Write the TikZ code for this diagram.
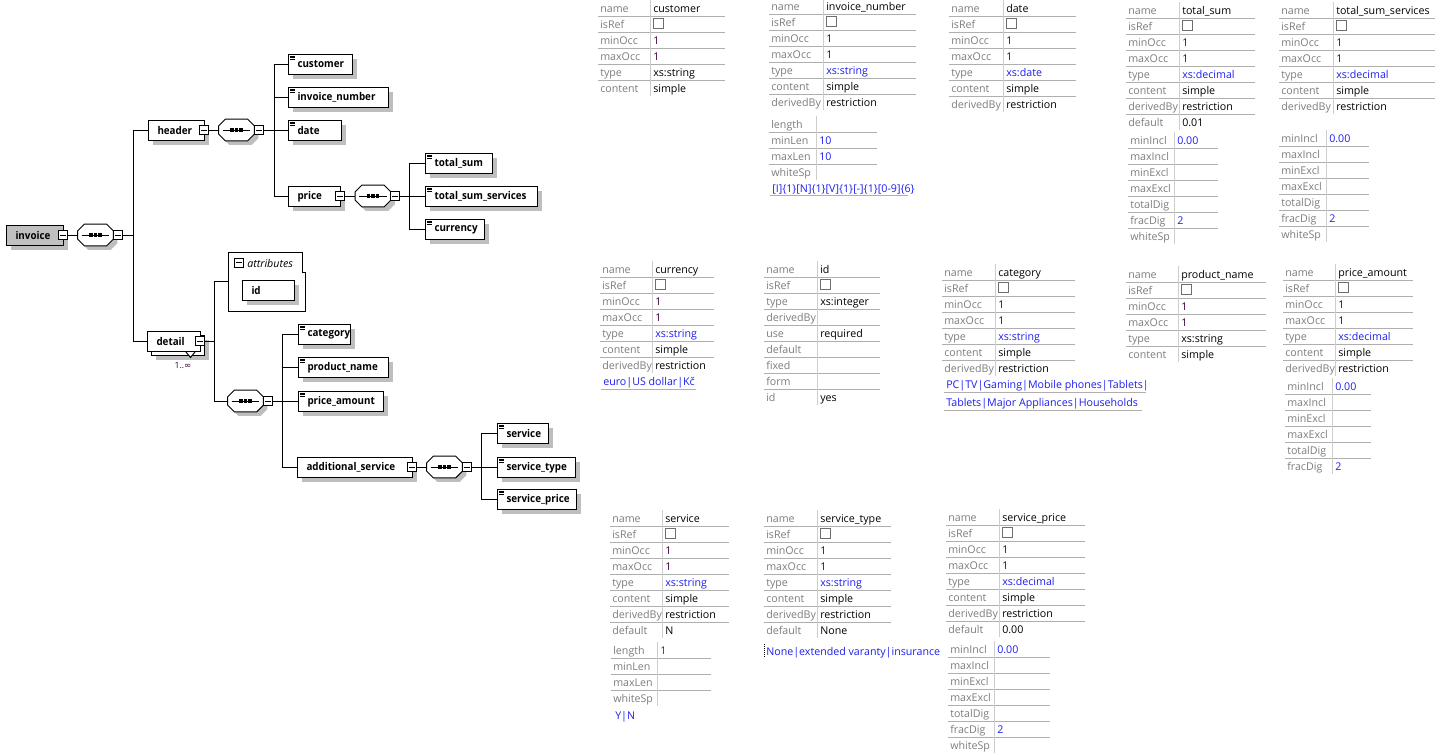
\documentclass[tikz,border=0pt]{standalone}
\usepackage{fontspec}
\setmainfont{Open Sans}
\newfontfamily\treefont[FakeStretch=0.92]{Open Sans}
\newfontfamily\dejavu{DejaVu Sans}
\usetikzlibrary{shadows}
\newdimen\pxu \pxu=0.75pt
\definecolor{labgray}{RGB}{125,125,125}
\definecolor{valblue}{RGB}{30,30,240}
\definecolor{valpur}{RGB}{64,0,64}
\definecolor{rowline}{RGB}{175,175,175}
\definecolor{colline}{RGB}{205,205,205}
\definecolor{shgray}{RGB}{190,190,190}
\definecolor{selgray}{RGB}{192,192,192}
\definecolor{chkgray}{RGB}{110,110,110}
\newcommand\bl[1]{\textcolor{valblue}{#1}}
\newcommand\pu[1]{\textcolor{valpur}{#1}}
\newcommand\chk{{\color{chkgray}\setlength\fboxsep{0pt}\setlength\fboxrule{0.6pt}\fbox{\vrule width0pt height7pt\hspace{7pt}}}}
\newcommand\tf{\fontsize{8}{9.5}\selectfont}
\tikzset{
  conn/.style={line width=0.75pt},
  elbox/.style={draw, line width=0.75pt, fill=white, inner sep=0pt, minimum height=20\pxu, align=left, font=\treefont\tf\bfseries, anchor=north west},
  shad/.style={drop shadow={shadow xshift=3pt, shadow yshift=-3pt, fill=shgray, opacity=1}},
  mbox/.style={draw, line width=0.75pt, fill=white, inner sep=0pt, minimum size=9\pxu},
  lab/.style={font=\tf, text=labgray, inner sep=0pt, anchor=west, text height=1.6ex, text depth=.4ex},
  val/.style={font=\tf, inner sep=0pt, anchor=west, text height=1.6ex, text depth=.4ex},
  rowl/.style={draw=rowline, line width=0.75pt},
  coll/.style={draw=colline, line width=0.75pt},
}
% element box: name, x, y, width, text, options
\newcommand\elem[6]{\node[elbox, shad, text width=#4\pxu, #6] (#1) at (#2,#3) {\mbox{\hspace*{9\pxu}#5}};}
\newcommand\icon[1]{\foreach \d in {2,3.6,5.2}{\draw[line width=0.55pt] ([shift={(2,\d)}]#1.north west) -- ++(5,0);}}
\newcommand\minusb[3]{\node[mbox] (#1) at (#2,#3) {}; \draw[line width=0.6pt] ([shift={(2,0)}]#1.west) -- ([shift={(-2,0)}]#1.east);}
\newcommand\seqc[3]{%
  \node[minimum width=35\pxu, minimum height=21\pxu, inner sep=0pt] (#1) at (#2,#3) {};
  \draw[line width=0.75pt, fill=white, shad] ([shift={(6.5,0)}]#1.north west) -- ([shift={(-6.5,0)}]#1.north east) -- ([shift={(0,6.5)}]#1.north east) -- ([shift={(0,-6.5)}]#1.south east) -- ([shift={(-6.5,0)}]#1.south east) -- ([shift={(6.5,0)}]#1.south west) -- ([shift={(0,-6.5)}]#1.south west) -- ([shift={(0,6.5)}]#1.north west) -- cycle;
  \draw[line width=0.75pt] ([shift={(4,0)}]#1.west) -- ([shift={(-4,0)}]#1.east);
  \foreach \dx in {-4.5,0,4.5} \fill ([shift={(\dx-1.6,-1.6)}]#1.center) rectangle ++(3.2,3.2);
}
% property table: id, xl, xs, xr, y0, n, rows
\newcommand\ptab[7]{%
  \foreach \ptlab/\ptval [count=\ptn] in {#7}{%
    \pgfmathsetmacro\ptyy{#5+16*(\ptn-1)}
    \node[lab] (#1l\ptn) at (#2,\ptyy) {\ptlab};
    \node[val] (#1v\ptn) at (#3+3,\ptyy) {\ptval};
    \ifnum\ptn<#6 \draw[rowl] (#2-2,\ptyy+8) -- (#4,\ptyy+8); \fi
  }
  \draw[coll] (#3,#5-8) -- (#3,#5+16*#6-8);
}
\begin{document}
\begin{tikzpicture}[x=0.75pt, y=-0.75pt]
\fill[white] (0,0) rectangle (1440,754);
\useasboundingbox (0,0) rectangle (1440,754);

% ---------------- tree ----------------
\elem{invoice}{6}{225}{57}{invoice}{fill=selgray}
\minusb{invm}{63}{235}
\seqc{invseq}{95.5}{235}
\minusb{invseqm}{117.5}{235}
\draw[conn] (invm.east) -- (invseq.west);
\coordinate (b1) at (133,235);
\draw[conn] (invseqm.east) -- (b1);

\elem{header}{148}{120}{56}{header}{}
\minusb{hm}{204}{130}
\seqc{hseq}{236.5}{130}
\minusb{hseqm}{258.5}{130}
\draw[conn] (hm.east) -- (hseq.west);
\coordinate (b2) at (274,130);
\draw[conn] (hseqm.east) -- (b2);

\elem{customer}{288}{54}{64}{customer}{} \icon{customer}
\elem{invnum}{288}{87}{100}{invoice\_number}{} \icon{invnum}
\elem{date}{288}{120}{53}{date}{} \icon{date}
\elem{price}{288}{186}{52}{price}{}
\minusb{pm}{340}{196}
\seqc{pseq}{373}{196}
\minusb{pseqm}{394.5}{196}
\draw[conn] (pm.east) -- (pseq.west);
\coordinate (b3) at (409,196);
\draw[conn] (pseqm.east) -- (b3);
\foreach \n in {customer,invnum,date,price} \draw[conn] (b2) |- (\n.west);

\elem{totalsum}{425}{153}{67}{total\_sum}{} \icon{totalsum}
\elem{totalserv}{425}{186}{112}{total\_sum\_services}{} \icon{totalserv}
\elem{currency}{425}{219}{59}{currency}{} \icon{currency}
\foreach \n in {totalsum,totalserv,currency} \draw[conn] (b3) |- (\n.west);

% detail
\node[elbox, shad, minimum width=53\pxu] (detailbk) at (151,335) {};
\node[elbox, text width=53\pxu] (detail) at (147,331) {\mbox{\hspace*{9\pxu}detail}};
\minusb{dm}{200}{341}
\draw[conn, fill=white] (186,352) -- (190.5,357.5) -- (195,352);
\node[font=\fontsize{6.5}{8}\selectfont, text=valpur, inner sep=0pt] (occ) at (183,365) {1..{\dejavu ∞}};
\draw[conn] (b1) |- (header.west);
\draw[conn] (b1) |- (detail.west);

% attributes
\node[inner sep=0pt, minimum width=77\pxu, minimum height=59\pxu, anchor=north west] (attr) at (228,252) {};
\draw[conn, fill=white] (228,252) -- (302,252) -- (302,272) -- (305,272) -- (305,311) -- (228,311) -- cycle;
\minusb{am}{238.5}{262.5}
\node[font=\tf\itshape, inner sep=0pt, anchor=west] (attrtxt) at (247,263) {attributes};
\elem{id}{242}{280}{52}{id}{}

\seqc{dseq}{245.5}{401}
\minusb{dseqm}{267.5}{401}
\coordinate (b4) at (214,341);
\draw[conn] (dm.east) -- (b4);
\draw[conn] (b4) |- (attr.west);
\draw[conn] (b4) |- (dseq.west);
\coordinate (b5) at (282,401);
\draw[conn] (dseqm.east) -- (b5);

\elem{category}{298}{324}{52}{category}{} \icon{category}
\elem{prodname}{298}{357}{90}{product\_name}{} \icon{prodname}
\elem{priceamt}{298}{391}{85}{price\_amount}{} \icon{priceamt}
\elem{addserv}{297}{457}{115}{additional\_service}{}
\foreach \n in {category,prodname,priceamt,addserv} \draw[conn] (b5) |- (\n.west);
\minusb{asm}{412}{467}
\seqc{aseq}{444.5}{467}
\minusb{aseqm}{466.5}{467}
\draw[conn] (asm.east) -- (aseq.west);
\coordinate (b6) at (481,467);
\draw[conn] (aseqm.east) -- (b6);
\elem{service}{497}{423}{51}{service}{} \icon{service}
\elem{servtype}{497}{457}{78}{service\_type}{} \icon{servtype}
\elem{servprice}{497}{489}{79}{service\_price}{} \icon{servprice}
\foreach \n in {service,servtype,servprice} \draw[conn] (b6) |- (\n.west);

% ---------------- tables ----------------
\ptab{ta}{600}{650}{725}{8}{6}{name/customer, isRef/\chk, minOcc/\pu{1}, maxOcc/\pu{1}, type/xs:string, content/simple}
\ptab{tb}{771}{823}{916}{6}{7}{name/invoice\_number, isRef/\chk, minOcc/\pu{1}, maxOcc/\pu{1}, type/\bl{xs:string}, content/simple, derivedBy/restriction}
\ptab{tbf}{771}{816}{877}{124}{4}{length/{}, minLen/\bl{10}, maxLen/\bl{10}, whiteSp/{}}
\node[val, text=valblue] (tbpat) at (772,188) {[I]\{1\}[N]\{1\}[V]\{1\}[-]\{1\}[0-9]\{6\}};
\draw[rowl] (770,195) -- (908,195);
\ptab{tc}{951}{1003}{1076}{8}{7}{name/date, isRef/\chk, minOcc/\pu{1}, maxOcc/\pu{1}, type/\bl{xs:date}, content/simple, derivedBy/restriction}
\ptab{td}{1128}{1179}{1255}{10}{8}{name/total\_sum, isRef/\chk, minOcc/\pu{1}, maxOcc/\pu{1}, type/\bl{xs:decimal}, content/simple, derivedBy/restriction, default/0.01}
\ptab{tdf}{1130}{1174}{1218}{140}{7}{minIncl/\bl{0.00}, maxIncl/{}, minExcl/{}, maxExcl/{}, totalDig/{}, fracDig/\bl{2}, whiteSp/{}}
\ptab{te}{1281}{1333}{1435}{10}{7}{name/total\_sum\_services, isRef/\chk, minOcc/\pu{1}, maxOcc/\pu{1}, type/\bl{xs:decimal}, content/simple, derivedBy/restriction}
\ptab{tef}{1281}{1326}{1369}{138}{7}{minIncl/\bl{0.00}, maxIncl/{}, minExcl/{}, maxExcl/{}, totalDig/{}, fracDig/\bl{2}, whiteSp/{}}

\ptab{tf}{602}{652}{714}{269}{7}{name/currency, isRef/\chk, minOcc/\pu{1}, maxOcc/\pu{1}, type/\bl{xs:string}, content/simple, derivedBy/restriction}
\node[val, text=valblue] (tfenum) at (603,381) {euro|US dollar|Kč};
\draw[rowl] (601,389) -- (696,389);
\ptab{tg}{766}{817}{880}{269}{9}{name/id, isRef/\chk, type/xs:integer, derivedBy/{}, use/required, default/{}, fixed/{}, form/{}, id/yes}
\ptab{th}{944}{995}{1075}{272}{7}{name/category, isRef/\chk, minOcc/\pu{1}, maxOcc/\pu{1}, type/\bl{xs:string}, content/simple, derivedBy/restriction}
\node[val, text=valblue] (thenum1) at (946,384) {PC|TV|Gaming|Mobile phones|Tablets|};
\draw[rowl] (944,392) -- (1146,392);
\node[val, text=valblue] (thenum2) at (946,402) {Tablets|Major Appliances|Households};
\draw[rowl] (944,410) -- (1142,410);
\ptab{ti}{1128}{1178}{1266}{274}{6}{name/product\_name, isRef/\chk, minOcc/\pu{1}, maxOcc/\pu{1}, type/xs:string, content/simple}
\ptab{tj}{1285}{1335}{1413}{272}{7}{name/price\_amount, isRef/\chk, minOcc/\pu{1}, maxOcc/\pu{1}, type/\bl{xs:decimal}, content/simple, derivedBy/restriction}
\ptab{tjf}{1287}{1332}{1371}{386}{6}{minIncl/\bl{0.00}, maxIncl/{}, minExcl/{}, maxExcl/{}, totalDig/{}, fracDig/\bl{2}}

\ptab{tk}{612}{662}{729}{518}{8}{name/service, isRef/\chk, minOcc/\pu{1}, maxOcc/\pu{1}, type/\bl{xs:string}, content/simple, derivedBy/restriction, default/N}
\ptab{tkf}{613}{657}{711}{650}{4}{length/\bl{1}, minLen/{}, maxLen/{}, whiteSp/{}}
\node[val, text=valblue] (tkenum) at (615,715) {Y|N};
\ptab{tl}{766}{817}{891}{518}{8}{name/service\_type, isRef/\chk, minOcc/\pu{1}, maxOcc/\pu{1}, type/\bl{xs:string}, content/simple, derivedBy/restriction, default/None}
\node[val, text=valblue] (tlenum) at (766,651) {None|extended varanty|insurance};
\draw[densely dotted, line width=0.5pt] (764,644) -- (764,658);
\ptab{tm}{948}{999}{1085}{517}{8}{name/service\_price, isRef/\chk, minOcc/\pu{1}, maxOcc/\pu{1}, type/\bl{xs:decimal}, content/simple, derivedBy/restriction, default/0.00}
\ptab{tmf}{950}{994}{1050}{649}{7}{minIncl/\bl{0.00}, maxIncl/{}, minExcl/{}, maxExcl/{}, totalDig/{}, fracDig/\bl{2}, whiteSp/{}}
\end{tikzpicture}
\end{document}
